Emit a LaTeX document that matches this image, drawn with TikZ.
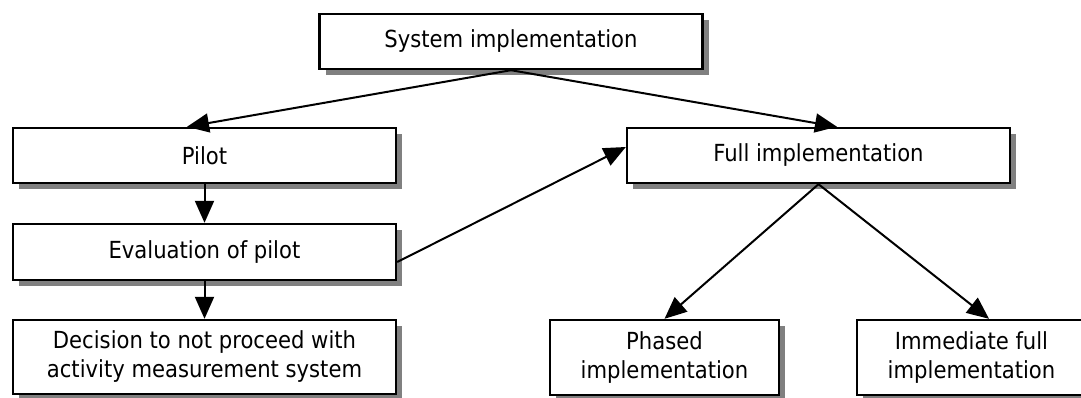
\documentclass[tikz,border=0pt]{standalone}
\usepackage{fontspec}
\setmainfont{DejaVu Sans Condensed}
\usetikzlibrary{arrows.meta,shadows,calc}
\tikzset{
  box/.style={draw=black, line width=2.4pt, fill=white, rectangle,
    inner sep=0pt, align=center, text=black,
    font=\fontsize{23.5}{29}\selectfont,
    drop shadow={shadow xshift=6pt, shadow yshift=-6pt, fill=black!50, opacity=1}},
  link/.style={line width=2pt, -{Triangle[length=22pt,width=19pt]}}
}
\begin{document}
\begin{tikzpicture}[x=1pt, y=-1pt]
  \useasboundingbox (0,0) rectangle (1081,397);
  \clip (0,0) rectangle (1081,397);
  \fill[white] (0,0) rectangle (1081,397);

  % boxes
  \node[box, minimum width=383pt, minimum height=55pt] (top)  at (511,41.5)   {System implementation};
  \node[box, minimum width=383pt, minimum height=55pt] (pilot) at (204.5,155.5) {Pilot};
  \node[box, minimum width=383pt, minimum height=56pt] (eval) at (204.5,252)  {Evaluation of pilot};
  \node[box, minimum width=383pt, minimum height=74pt] (stop) at (204.5,357)  {Decision to not proceed with\\activity measurement system};
  \node[box, minimum width=383pt, minimum height=55pt] (full) at (818.5,155.5) {Full implementation};
  \node[box, minimum width=229pt, minimum height=75pt] (phased) at (664.5,357.5) {Phased\\implementation};
  \node[box, minimum width=229pt, minimum height=75pt] (immed) at (971.5,357.5) {Immediate full\\implementation};

  % connectors
  \draw[link] (top.south) -- ($(pilot.north)+(-17.5,0)$);
  \draw[link] (top.south) -- ($(full.north)+(18.5,0)$);
  \draw[link] (pilot.south) -- (eval.north);
  \draw[link] (eval.south) -- (stop.north);
  \draw[link] ($(eval.east)+(0,10)$) -- ($(full.west)+(0,-8.5)$);
  \draw[link] (full.south) -- (phased.north);
  \draw[link] (full.south) -- ($(immed.north)+(17.5,0)$);
\end{tikzpicture}
\end{document}
